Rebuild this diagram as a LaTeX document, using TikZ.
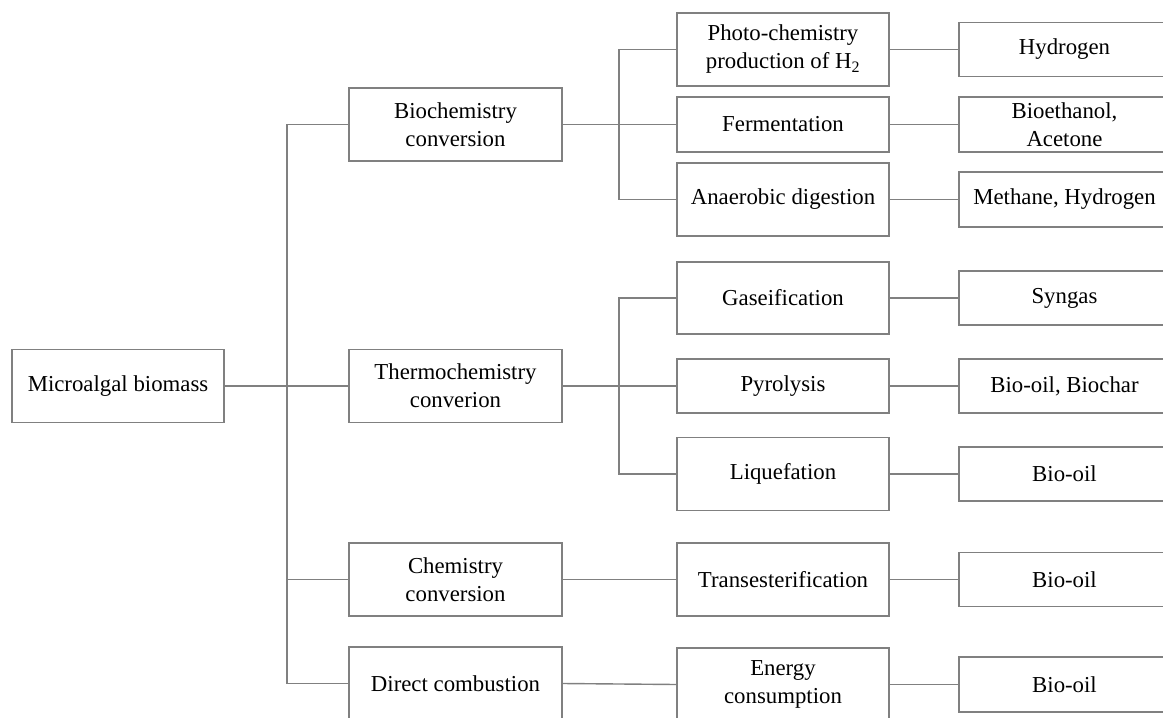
\documentclass[tikz,border=0pt]{standalone}
\usepackage{fontspec}
\setmainfont{Liberation Serif}
\begin{document}
\begin{tikzpicture}[x=1pt,y=-1pt,
  box/.style={draw=linegray,line width=1.4pt,rectangle,inner sep=0pt,align=center,
    font=\fontsize{22.8}{28}\selectfont,text=black},
  conn/.style={draw=linegray,line width=1.4pt}]
\definecolor{linegray}{RGB}{128,128,128}
\useasboundingbox (0,0) rectangle (1163,718);
% column 1
\node[box,minimum width=212pt,minimum height=73pt] (micro) at (118,386) {Microalgal biomass};
% column 2
\node[box,minimum width=213pt,minimum height=73pt] (bio) at (455.5,124.5) {Biochemistry\\conversion};
\node[box,minimum width=213pt,minimum height=73pt] (thermo) at (455.5,386) {Thermochemistry\\converion};
\node[box,minimum width=213pt,minimum height=73pt] (chem) at (455.5,579.5) {Chemistry\\conversion};
\node[box,minimum width=213pt,minimum height=73pt] (direct) at (455.5,683.5) {Direct combustion};
% column 3
\node[box,minimum width=212pt,minimum height=73pt] (photo) at (783,49.5) {Photo-chemistry\\production of H\textsubscript{2}};
\node[box,minimum width=212pt,minimum height=55pt] (ferm) at (783,124.5) {Fermentation};
\node[box,minimum width=212pt,minimum height=73pt] (anae) at (783,199.5) {Anaerobic digestion};
\node[box,minimum width=212pt,minimum height=72pt] (gas) at (783,298) {Gaseification};
\node[box,minimum width=212pt,minimum height=54pt] (pyro) at (783,386) {Pyrolysis};
\node[box,minimum width=212pt,minimum height=73pt] (liq) at (783,474) {Liquefation};
\node[box,minimum width=212pt,minimum height=73pt] (trans) at (783,579.5) {Transesterification};
\node[box,minimum width=212pt,minimum height=73pt] (energy) at (783,684.5) {Energy\\consumption};
% column 4
\node[box,minimum width=215pt,minimum height=54pt] (hyd) at (1066.5,49.5) {\hspace*{-4pt}Hydrogen};
\node[box,minimum width=215pt,minimum height=55pt] (betoh) at (1066.5,124.5) {\hspace*{-4pt}Bioethanol,\\\hspace*{-4pt}Acetone};
\node[box,minimum width=215pt,minimum height=55pt] (meth) at (1066.5,199.5) {\hspace*{-4pt}Methane, Hydrogen};
\node[box,minimum width=215pt,minimum height=54pt] (syn) at (1066.5,298) {\hspace*{-4pt}Syngas};
\node[box,minimum width=215pt,minimum height=54pt] (bchar) at (1066.5,386) {\hspace*{-4pt}Bio-oil, Biochar};
\node[box,minimum width=215pt,minimum height=54pt] (oil1) at (1066.5,474) {\hspace*{-4pt}Bio-oil};
\node[box,minimum width=215pt,minimum height=54pt] (oil2) at (1066.5,579.5) {\hspace*{-4pt}Bio-oil};
\node[box,minimum width=215pt,minimum height=55pt] (oil3) at (1066.5,684.5) {\hspace*{-4pt}Bio-oil};
% spine coordinates
\coordinate (s1) at (287,0);
\coordinate (s2) at (619,0);
% column 1 -> 2
\draw[conn] (bio.west) -- (bio.west -| s1) -- (direct.west -| s1) -- (direct.west);
\draw[conn] (micro.east) -- (thermo.west);
\draw[conn] (chem.west -| s1) -- (chem.west);
% column 2 -> 3
\draw[conn] (photo.west) -- (photo.west -| s2) -- (anae.west -| s2) -- (anae.west);
\draw[conn] (bio.east) -- (ferm.west);
\draw[conn] (gas.west) -- (gas.west -| s2) -- (liq.west -| s2) -- (liq.west);
\draw[conn] (thermo.east) -- (pyro.west);
\draw[conn] (chem.east) -- (trans.west);
\draw[conn] (direct.east) -- (energy.west);
% column 3 -> 4
\draw[conn] (photo.east) -- (hyd.west);
\draw[conn] (ferm.east) -- (betoh.west);
\draw[conn] (anae.east) -- (meth.west);
\draw[conn] (gas.east) -- (syn.west);
\draw[conn] (pyro.east) -- (bchar.west);
\draw[conn] (liq.east) -- (oil1.west);
\draw[conn] (trans.east) -- (oil2.west);
\draw[conn] (energy.east) -- (oil3.west);
\end{tikzpicture}
\end{document}
